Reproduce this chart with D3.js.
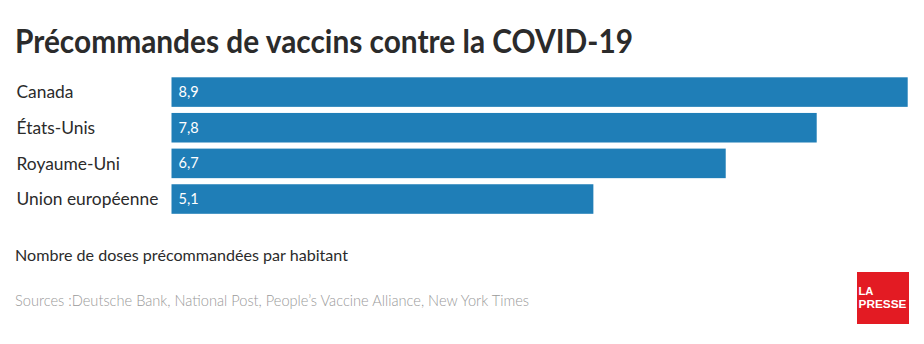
<!DOCTYPE html>
<html><head><meta charset="utf-8">
<script src="https://cdn.jsdelivr.net/npm/d3@7"></script>
<style>body{margin:0;background:#fff}</style>
</head><body>
<script>
const categories = ["Canada", "États-Unis", "Royaume-Uni", "Union européenne"];
const values = [8.9, 7.8, 6.7, 5.1];
const valueLabels = ["8,9", "7,8", "6,7", "5,1"];
const title = "Précommandes de vaccins contre la COVID-19";
const subtitle = "Nombre de doses précommandées par habitant";
const sources = "Sources :Deutsche Bank, National Post, People’s Vaccine Alliance, New York Times";

const W = 924, H = 344;
const svg = d3.select("body").append("svg").attr("width", W).attr("height", H);
const font = "Lato, 'Open Sans', sans-serif";

const x = d3.scaleLinear().domain([0, 8.9]).range([171.5, 907.7]);
const y = d3.scaleBand().domain(categories).range([77.3, 213.8]).paddingInner(0.171).paddingOuter(0);

svg.append("text").attr("x", 15).attr("y", 52.5).attr("font-family", font)
  .attr("font-weight", 700).attr("font-size", 32).attr("fill", "#2b2b2b")
  .attr("textLength", 618).attr("lengthAdjust", "spacingAndGlyphs").text(title);

const g = svg.append("g");
g.selectAll("rect").data(values).join("rect")
  .attr("x", x(0)).attr("y", (d, i) => y(categories[i]))
  .attr("width", d => x(d) - x(0)).attr("height", y.bandwidth())
  .attr("fill", "#1f7eb7");

g.selectAll("text.v").data(values).join("text").attr("class", "v")
  .attr("x", x(0) + 7).attr("y", (d, i) => y(categories[i]) + y.bandwidth() / 2 + 5)
  .attr("font-family", font).attr("font-size", 14.5).attr("fill", "#fff")
  .text((d, i) => valueLabels[i]);

g.selectAll("text.c").data(categories).join("text").attr("class", "c")
  .attr("x", 16.5).attr("y", d => y(d) + y.bandwidth() / 2 + 6.3)
  .attr("font-family", font).attr("font-size", 17.4).attr("fill", "#2b2b2b")
  .text(d => d);

svg.append("text").attr("x", 15).attr("y", 261).attr("font-family", font)
  .attr("font-size", 16.2).attr("fill", "#2b2b2b")
  .attr("textLength", 333).attr("lengthAdjust", "spacingAndGlyphs").text(subtitle);

svg.append("text").attr("x", 15).attr("y", 306).attr("font-family", font)
  .attr("font-size", 15).attr("fill", "#9a9a9a").attr("font-weight", 300)
  .attr("textLength", 514).attr("lengthAdjust", "spacingAndGlyphs").text(sources);

const logoFont = "'Liberation Sans', Arial, sans-serif";
const logo = svg.append("g");
logo.append("rect").attr("x", 857).attr("y", 272).attr("width", 52).attr("height", 52).attr("fill", "#e31b23");
logo.append("text").attr("x", 858.5).attr("y", 295).attr("font-family", logoFont).attr("font-weight", 700)
  .attr("font-size", 11.5).attr("fill", "#fff").attr("textLength", 15).attr("lengthAdjust", "spacingAndGlyphs").text("LA");
logo.append("text").attr("x", 858.5).attr("y", 308).attr("font-family", logoFont).attr("font-weight", 700)
  .attr("font-size", 11.5).attr("fill", "#fff").attr("textLength", 48).attr("lengthAdjust", "spacingAndGlyphs").text("PRESSE");
</script>
</body></html>
